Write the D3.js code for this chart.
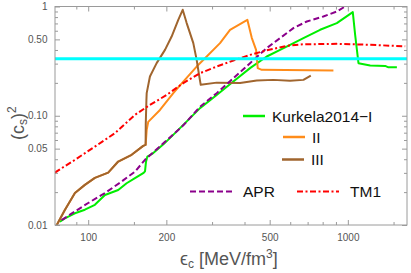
<!DOCTYPE html>
<html>
<head>
<meta charset="utf-8">
<script src="https://cdn.jsdelivr.net/npm/d3@7"></script>
<style>
  body { margin: 0; background: #fff; }
  svg { display: block; font-family: "Liberation Sans", Arial, sans-serif; }
</style>
</head>
<body>
<svg id="chart" width="411" height="273"></svg>
<script>
// energy density [MeV/fm^3] vs speed of sound squared
const kurkela1 = [[77.8,0.0107],[81.3,0.0115],[88.9,0.0128],[97.1,0.0138],[106.1,0.0153],[116,0.0188],
  [130.5,0.0209],[140.6,0.0241],[151.4,0.0268],[162.9,0.0298],[165.5,0.031],[167,0.038],[169,0.0423],
  [178.1,0.0455],[195.8,0.0553],[215.9,0.0693],[232.4,0.0825],[269.6,0.1174],[312.6,0.155],[362.3,0.2056],
  [420.1,0.273],[487.2,0.3485],[548.3,0.401],[599.3,0.446],[674.5,0.5136],[782,0.612],[907,0.705],
  [1045,0.889],[1067,0.55],[1099,0.303],[1219,0.288],[1392,0.286],[1434,0.2775],[1545,0.2775]];

const kurkela2 = [[75.5,0.0099],[81.3,0.0137],[88.9,0.0196],[97.1,0.0233],[106.1,0.027],[119.4,0.0302],
  [130.5,0.0381],[147,0.0439],[162.9,0.053],[166.4,0.0541],[168,0.0743],[170.3,0.0879],[189,0.113],
  [212.7,0.161],[232.4,0.2056],[261.7,0.282],[286.1,0.348],[321.9,0.462],[351.8,0.612],[410.2,0.755],
  [426.6,0.517],[443.2,0.401],[449.8,0.273],[466.1,0.263],[880,0.2594]];

const kurkela3 = [[75.5,0.0099],[81.3,0.0137],[88.9,0.0196],[97.1,0.0233],[106.1,0.027],[119.4,0.0302],
  [130.5,0.0381],[147,0.0439],[162.9,0.053],[166.4,0.0541],[166.6,0.0826],[167.6,0.14],[168,0.161],
  [172.9,0.2286],[183.5,0.303],[197.6,0.401],[209.6,0.531],[222.3,0.755],[231.2,0.933],[239.5,0.705],
  [254,0.462],[261.7,0.325],[267.9,0.2286],[271.3,0.192],[312.6,0.201],[384.5,0.199],[445.9,0.21],
  [516.6,0.213],[599,0.209],[674.5,0.213],[720,0.233]];

const apr = [[79,0.0111],[88.9,0.0133],[100,0.0159],[116,0.0196],[134.5,0.025],[151.4,0.0308],
  [166.4,0.0401],[197.6,0.0577],[232.4,0.0817],[269.6,0.1207],[312.6,0.161],[362.3,0.221],[420.1,0.303],
  [487.2,0.416],[548.3,0.5136],[617,0.634],[695,0.729],[805,0.81],[907,0.9],[976,1.0]];

const tm1 = [[74.4,0.0302],[88.9,0.0395],[106.1,0.0522],[126.8,0.0693],[151.4,0.102],[172.9,0.1258],
  [200.6,0.155],[232.4,0.199],[269.6,0.2455],[312.6,0.282],[362.3,0.32],[420.1,0.361],[487.2,0.397],
  [582,0.436],[674.5,0.451],[907,0.455],[1219,0.446],[1663,0.432]];

const conformal = 1 / 3;

const xMajor = [100, 200, 500, 1000];
const xMinor = [90, 150, 300, 400, 600, 700, 800, 900, 1500];
const yMajor = [0.01, 0.05, 0.1, 0.5, 1];
const yMajorLabels = ["0.01", "0.05", "0.10", "0.50", "1"];
const yMinor = [0.02, 0.03, 0.04, 0.06, 0.07, 0.08, 0.09, 0.2, 0.3, 0.4, 0.6, 0.7, 0.8, 0.9];

// legend entries
const legendTop = [
  { label: "Kurkela2014\u2212I", color: "#00ee00", dash: null },
  { label: "II", color: "#ff8c1a", dash: null },
  { label: "III", color: "#a0652e", dash: null }
];
const legendBottom = [
  { label: "APR", color: "#8b008b", dash: "6,3" },
  { label: "TM1", color: "#ff0000", dash: "6,2.5,2,2.5" }
];

const svg = d3.select("#chart");
const mLeft = 55, mRight = 407, mTop = 6.5, mBottom = 225;

const x = d3.scaleLog().domain([74.5, 1690]).range([mLeft, mRight]);
const y = d3.scaleLog().domain([0.01, 1]).range([mBottom, mTop]);

const frameColor = "#9a9a9a";

// clip curves to the frame
svg.append("clipPath").attr("id", "clip")
  .append("rect").attr("x", mLeft).attr("y", mTop).attr("width", mRight - mLeft).attr("height", mBottom - mTop);

// axes: ticks pointing inward on all four sides
function drawAxis(axisFn, scale, vals, size, fmt, transform) {
  const ax = axisFn(scale).tickValues(vals).tickSize(size).tickSizeOuter(0).tickFormat(fmt);
  const g = svg.append("g").attr("transform", transform).call(ax);
  g.select(".domain").remove();
  g.selectAll("line").attr("stroke", frameColor);
  g.selectAll("text").attr("fill", "#555").attr("font-size", 10);
  return g;
}

const yFmt = d => yMajorLabels[yMajor.indexOf(d)];
drawAxis(d3.axisBottom, x, xMajor, -5, d3.format("d"), `translate(0,${mBottom})`)
  .selectAll("text").attr("dy", "1.25em");
drawAxis(d3.axisBottom, x, xMinor, -3, "", `translate(0,${mBottom})`);
drawAxis(d3.axisTop, x, xMajor, -5, "", `translate(0,${mTop})`);
drawAxis(d3.axisTop, x, xMinor, -3, "", `translate(0,${mTop})`);
drawAxis(d3.axisLeft, y, yMajor, -5, yFmt, `translate(${mLeft},0)`)
  .selectAll("text").attr("dx", "-0.45em");
drawAxis(d3.axisLeft, y, yMinor, -3, "", `translate(${mLeft},0)`);
drawAxis(d3.axisRight, y, yMajor, -5, "", `translate(${mRight},0)`);
drawAxis(d3.axisRight, y, yMinor, -3, "", `translate(${mRight},0)`);

// curves
const line = d3.line().x(d => x(d[0])).y(d => y(d[1]));
const plot = svg.append("g").attr("clip-path", "url(#clip)");

const series = [
  { data: kurkela1, color: legendTop[0].color, dash: null },
  { data: kurkela2, color: legendTop[1].color, dash: null },
  { data: kurkela3, color: legendTop[2].color, dash: null },
  { data: apr, color: legendBottom[0].color, dash: legendBottom[0].dash },
  { data: tm1, color: legendBottom[1].color, dash: legendBottom[1].dash }
];

series.forEach(s => {
  plot.append("path")
    .attr("d", line(s.data))
    .attr("fill", "none")
    .attr("stroke", s.color)
    .attr("stroke-width", 2)
    .attr("stroke-linejoin", "round")
    .attr("stroke-dasharray", s.dash);
});

// conformal limit c_s^2 = 1/3
plot.append("line")
  .attr("x1", mLeft).attr("x2", mRight)
  .attr("y1", y(conformal)).attr("y2", y(conformal))
  .attr("stroke", "#00ffff").attr("stroke-width", 3);

// frame
svg.append("rect")
  .attr("x", mLeft).attr("y", mTop).attr("width", mRight - mLeft).attr("height", mBottom - mTop)
  .attr("fill", "none").attr("stroke", frameColor).attr("stroke-width", 1);

// legends
const leg = svg.append("g");
[[243, 116], [283, 137], [282, 159.5]].forEach((p, i) => {
  const e = legendTop[i];
  leg.append("line").attr("x1", p[0]).attr("x2", p[0] + 22).attr("y1", p[1]).attr("y2", p[1])
    .attr("stroke", e.color).attr("stroke-width", 2.5);
  leg.append("text").attr("x", p[0] + 29).attr("y", p[1] + 5.5)
    .attr("font-size", 15.5).attr("fill", "#111").text(e.label);
});
[[190, 191.5], [297, 191.5]].forEach((p, i) => {
  const e = legendBottom[i];
  leg.append("line").attr("x1", p[0]).attr("x2", p[0] + 42).attr("y1", p[1]).attr("y2", p[1])
    .attr("stroke", e.color).attr("stroke-width", 2).attr("stroke-dasharray", e.dash);
  leg.append("text").attr("x", p[0] + 53).attr("y", p[1] + 5.5)
    .attr("font-size", 15.5).attr("fill", "#111").text(e.label);
});

// axis labels
const xl = svg.append("text").attr("x", 180).attr("y", 265)
  .attr("font-size", 18).attr("fill", "#555");
xl.append("tspan").text("\u03f5");
xl.append("tspan").attr("font-size", 12).attr("dy", 3).text("c");
xl.append("tspan").attr("dy", -3).text(" [MeV/fm");
xl.append("tspan").attr("font-size", 12).attr("dy", -7).text("3");
xl.append("tspan").attr("dy", 7).text("]");

const yl = svg.append("text").attr("transform", "translate(24,140) rotate(-90)")
  .attr("font-size", 18).attr("fill", "#555");
yl.append("tspan").text("(c");
yl.append("tspan").attr("font-size", 12).attr("dy", 3).text("s");
yl.append("tspan").attr("dy", -3).text(")");
yl.append("tspan").attr("font-size", 12).attr("dy", -8).text("2");
</script>
</body>
</html>
